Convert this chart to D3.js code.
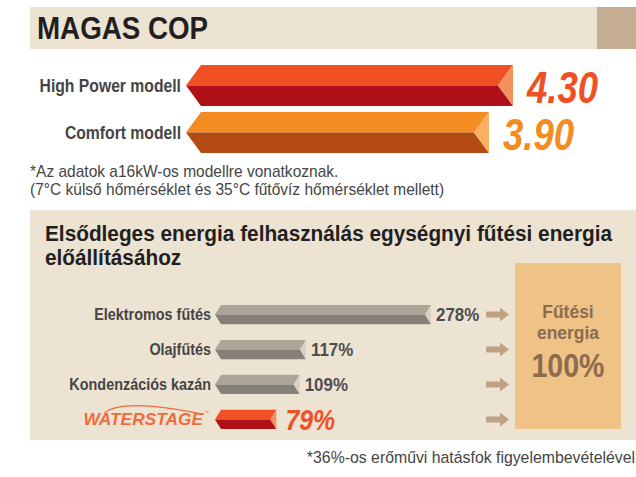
<!DOCTYPE html>
<html><head><meta charset="utf-8">
<script src="https://cdn.jsdelivr.net/npm/d3@7"></script>
<style>body{margin:0;background:#fff}svg{display:block}</style>
</head><body>
<svg id="c" width="636" height="477"></svg>
<script>
// ---- data ----
const copModels = ["High Power modell", "Comfort modell"];
const copValues = [4.30, 3.90];
const copLabels = ["4.30", "3.90"];
const energyCategories = ["Elektromos fűtés", "Olajfűtés", "Kondenzációs kazán", "WATERSTAGE"];
const energyValues = [278, 117, 109, 79];
const energyLabels = ["278%", "117%", "109%", "79%"];
const targetValue = 100;

const svg = d3.select("#c");
const FONT = "Liberation Sans, Arial, sans-serif";

// text helper with horizontal condensing
function txt(g, x, y, s, o){
  const t = g.append("text")
    .attr("transform",`translate(${x},${y}) scale(${o.sx||1},1)`)
    .text(s)
    .attr("font-family",FONT)
    .attr("font-size",o.size)
    .attr("fill",o.fill||"#454545");
  if (o.bold) t.attr("font-weight","bold");
  if (o.italic) t.attr("font-style","italic");
  if (o.anchor) t.attr("text-anchor",o.anchor);
  if (o.dy) t.attr("dy",o.dy);
  if (o.ls!=null) t.attr("letter-spacing",o.ls);
  return t;
}

// ---- header ----
svg.append("rect").attr("x",30).attr("y",7).attr("width",567).attr("height",42).attr("fill","#ede3d3");
svg.append("rect").attr("x",597).attr("y",7).attr("width",39).attr("height",42).attr("fill","#c4ad93");
txt(svg, 37, 39, "MAGAS COP", {size:30.5, sx:0.91, bold:true, fill:"#231f20"});

function bar(g, x0, x1, top, bot, cTop, cBot, cNotch, slope, notch){
  const mid = (top+bot)/2;
  g.append("path").attr("d",`M${x0+slope},${top}L${x1},${top}L${x1-notch},${mid}L${x0},${mid}Z`).attr("fill",cTop);
  g.append("path").attr("d",`M${x0},${mid}L${x1-notch},${mid}L${x1},${bot}L${x0+slope},${bot}Z`).attr("fill",cBot);
  g.append("path").attr("d",`M${x1},${top}L${x1-notch},${mid}L${x1},${bot}Z`).attr("fill",cNotch);
}

// ---- COP bars ----
const copX = d3.scaleLinear().domain([0, 4.3]).range([69, 327]);
const copY = d3.scaleBand().domain(copModels).range([65, 153]).paddingInner(0.13);
const copCol = [
  {top:"#ef5024", bot:"#b01118", notch:"#f5905f", txt:"#ef5024"},
  {top:"#f48c21", bot:"#b14b13", notch:"#fbb062", txt:"#f48c21"}
];
const g1 = svg.append("g");
copModels.forEach((m,i)=>{
  const top = copY(m), bot = top + copY.bandwidth();
  const x0 = 186, x1 = x0 + copX(copValues[i]);
  bar(g1, x0, x1, top, bot, copCol[i].top, copCol[i].bot, copCol[i].notch, 15, 15);
  txt(g1, 181, (top+bot)/2, m, {size:18.5, sx:0.85, bold:true, anchor:"end", dy:"0.35em", fill:"#454545"});
  txt(g1, x1+14, bot-3, copLabels[i], {size:44, sx:0.83, bold:true, italic:true, fill:copCol[i].txt});
});

// ---- footnote 1 ----
txt(svg, 30, 177, "*Az adatok a16kW-os modellre vonatkoznak.", {size:16, sx:0.97});
txt(svg, 30, 195, "(7°C külső hőmérséklet és 35°C fűtővíz hőmérséklet mellett)", {size:16, sx:0.97});

// ---- panel 2 ----
svg.append("rect").attr("x",30).attr("y",210).attr("width",606).attr("height",230).attr("fill","#ede3d3");
txt(svg, 45, 241, "Elsődleges energia felhasználás egységnyi fűtési energia", {size:22, sx:0.945, bold:true, fill:"#231f20"});
txt(svg, 45, 265, "előállításához", {size:22, sx:0.945, bold:true, fill:"#231f20"});

const eX = d3.scaleLinear().domain([0, 278]).range([0, 216]);
const eY = d3.scaleBand().domain(energyCategories).range([305, 429]).paddingInner(0.45);
const g2 = svg.append("g");
energyCategories.forEach((c,i)=>{
  const top = eY(c), bot = top + eY.bandwidth(), mid=(top+bot)/2;
  const x0 = 215, x1 = x0 + eX(energyValues[i]);
  const ws = c === "WATERSTAGE";
  if (ws) bar(g2, x0, x1, top, bot, "#ef5024", "#b01118", "#f5905f", 6, 6);
  else bar(g2, x0, x1, top, bot, "#aea598", "#858078", "#d9d1c4", 6, 6);
  if (ws) {
    txt(g2, 203, mid, "WATERSTAGE", {size:16.5, sx:1.05, bold:true, italic:true, anchor:"end", dy:"0.36em", ls:0, fill:"#f26b3a"});
    txt(g2, 204, mid-5, "™", {size:5, fill:"#f26b3a"});
    g2.append("path").attr("d",`M104,${mid-6} Q122,${mid-22} 204,${mid-5}`).attr("fill","none")
      .attr("stroke","#f26b3a").attr("stroke-width",1.1);
    txt(g2, x1+9, bot+1, energyLabels[i], {size:30, sx:0.83, bold:true, italic:true, fill:"#ef5024"});
  } else {
    txt(g2, 211, mid, c, {size:16, sx:0.9, bold:true, anchor:"end", dy:"0.35em", fill:"#454545"});
    txt(g2, x1+5, mid, energyLabels[i], {size:18, sx:0.94, bold:true, dy:"0.36em", fill:"#4d4d4f"});
  }
  // arrow
  g2.append("path").attr("d",`M486,${mid-3}L500,${mid-3}L500,${mid-7}L509,${mid}L500,${mid+7}L500,${mid+3}L486,${mid+3}Z`)
    .attr("fill","#bfa184");
});

// target box
svg.append("rect").attr("x",515).attr("y",263).attr("width",106).attr("height",166).attr("fill","#efc286");
txt(svg, 568, 318, "Fűtési", {size:19, sx:0.92, bold:true, anchor:"middle", fill:"#8c6b4f"});
txt(svg, 568, 339, "energia", {size:19, sx:0.92, bold:true, anchor:"middle", fill:"#8c6b4f"});
txt(svg, 568, 377, targetValue + "%", {size:34, sx:0.84, bold:true, anchor:"middle", fill:"#8c6b4f"});

// footnote 2
txt(svg, 635, 463, "*36%-os erőművi hatásfok figyelembevételével", {size:16, sx:0.99, anchor:"end"});
</script>
</body></html>
